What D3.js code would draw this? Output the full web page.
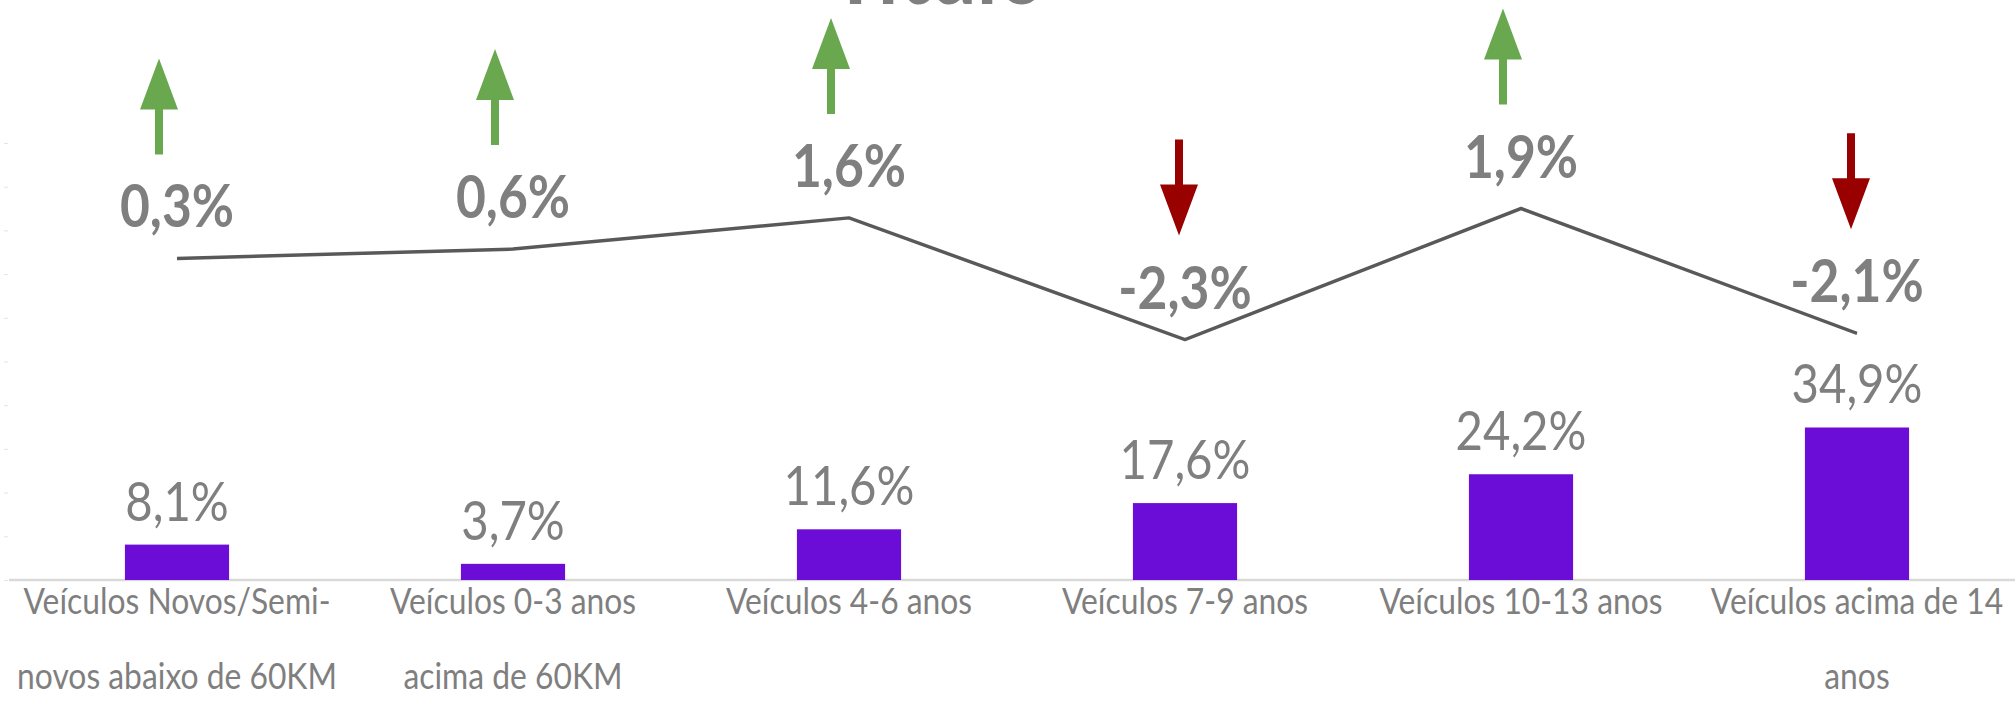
<!DOCTYPE html>
<html lang="pt">
<head>
  <meta charset="UTF-8">
  <title>Frota por idade</title>
  <script src="https://d3js.org/d3.v7.min.js"></script>
  <style>
    body { margin: 0; background: #fff; }
    text { font-family: Lato, "Open Sans", sans-serif; fill: #7f7f7f; }
  </style>
</head>
<body>

<div id="grafico"></div>

<script>
  // Dados
  const categorias = [
    "Veículos Novos/Semi-\nnovos abaixo de 60KM",
    "Veículos 0-3 anos\nacima de 60KM",
    "Veículos 4-6 anos",
    "Veículos 7-9 anos",
    "Veículos 10-13 anos",
    "Veículos acima de 14\nanos"
  ];
  const participacao = [8.1, 3.7, 11.6, 17.6, 24.2, 34.9];
  const variacao = [0.3, 0.6, 1.6, -2.3, 1.9, -2.1];
  const ticksEixo = [0, 10, 20, 30, 40, 50, 60, 70, 80, 90, 100];
  const titulo = "Título";

  // Configuração
  const width = 2015;
  const height = 703;
  const sx = 0.86; // o gráfico original está comprimido na horizontal

  const fmt = d3.formatLocale({ decimal: ",", thousands: ".", grouping: [3], currency: ["R$", ""], minus: "-" }).format(".1f");

  const svg = d3.select("#grafico")
    .append("svg")
    .attr("width", width)
    .attr("height", height);

  svg.append("rect").attr("width", width).attr("height", height).attr("fill", "#fff");

  const g = svg.append("g").attr("transform", `scale(${sx},1)`);

  // Escalas
  const x = d3.scaleBand()
    .domain(categorias)
    .range([9 / sx, 2025 / sx])
    .paddingInner(0.69)
    .paddingOuter(0.345);

  const y = d3.scaleLinear().domain([0, 100]).range([580, 143]);
  const y2 = d3.scaleLinear().domain([-3, 3]).range([361.4, 174.2]);

  const cx = c => x(c) + x.bandwidth() / 2;

  // Título (cortado no topo)
  g.append("text")
    .attr("x", 938 / sx)
    .attr("y", 4)
    .attr("text-anchor", "middle")
    .attr("font-size", 97)
    .attr("font-weight", "bold")
    .text(titulo);

  // Eixo esquerdo (só as marcas, bem claras)
  const eixo = g.append("g")
    .attr("transform", `translate(${8 / sx},0)`)
    .call(d3.axisLeft(y).tickValues(ticksEixo).tickSize(4 / sx).tickFormat(""));
  eixo.select(".domain").remove();
  eixo.selectAll(".tick line").attr("stroke", "#e2e2e2");

  // Linha de base
  g.append("line")
    .attr("x1", 9 / sx)
    .attr("x2", width / sx)
    .attr("y1", y(0))
    .attr("y2", y(0))
    .attr("stroke", "#d9d9d9")
    .attr("stroke-width", 2.5);

  // Barras
  g.selectAll("rect.barra")
    .data(categorias)
    .enter()
    .append("rect")
    .attr("class", "barra")
    .attr("x", c => x(c))
    .attr("y", (c, i) => y(participacao[i]))
    .attr("width", x.bandwidth())
    .attr("height", (c, i) => y(0) - y(participacao[i]))
    .attr("fill", "#6b0dd6");

  // Rótulos das barras
  g.selectAll("text.rotuloBarra")
    .data(categorias)
    .enter()
    .append("text")
    .attr("class", "rotuloBarra")
    .attr("x", cx)
    .attr("y", (c, i) => y(participacao[i]) - 24)
    .attr("text-anchor", "middle")
    .attr("font-size", 55)
    .text((c, i) => fmt(participacao[i]) + "%");

  // Rótulos das categorias
  const cat = g.selectAll("text.categoria")
    .data(categorias)
    .enter()
    .append("text")
    .attr("class", "categoria")
    .attr("text-anchor", "middle")
    .attr("font-size", 37);
  cat.each(function (c) {
    d3.select(this).selectAll("tspan")
      .data(c.split("\n"))
      .enter()
      .append("tspan")
      .attr("x", cx(c))
      .attr("y", (d, j) => 614 + j * 75)
      .text(d => d);
  });

  // Linha da variação
  const pontos = categorias.map((c, i) => ({ c: c, v: variacao[i] }));
  g.append("path")
    .datum(pontos)
    .attr("fill", "none")
    .attr("stroke", "#595959")
    .attr("stroke-width", 3.5)
    .attr("stroke-linejoin", "round")
    .attr("d", d3.line().x(d => cx(d.c)).y(d => y2(d.v)));

  // Rótulos da linha
  g.selectAll("text.rotuloLinha")
    .data(pontos)
    .enter()
    .append("text")
    .attr("class", "rotuloLinha")
    .attr("x", d => cx(d.c))
    .attr("y", d => y2(d.v) - 31)
    .attr("text-anchor", "middle")
    .attr("font-size", 60)
    .attr("font-weight", "bold")
    .text(d => fmt(d.v) + "%");

  // Setas
  const seta = d => {
    const sobe = d.v >= 0;
    const ax = cx(d.c) - (sobe ? 18 : 6) / sx;
    const hw = 19 / sx, sw = 4 / sx;
    const ref = y2(d.v) - 104;
    let pts;
    if (sobe) {
      const t = ref - 96, hb = t + 51;
      pts = [[ax, t], [ax + hw, hb], [ax + sw, hb], [ax + sw, ref], [ax - sw, ref], [ax - sw, hb], [ax - hw, hb]];
    } else {
      const top = ref - 96, hb = ref - 51;
      pts = [[ax, ref], [ax + hw, hb], [ax + sw, hb], [ax + sw, top], [ax - sw, top], [ax - sw, hb], [ax - hw, hb]];
    }
    return "M" + pts.map(p => p.join(",")).join("L") + "Z";
  };

  g.selectAll("path.seta")
    .data(pontos)
    .enter()
    .append("path")
    .attr("class", "seta")
    .attr("d", seta)
    .attr("fill", d => d.v >= 0 ? "#6aa84f" : "#990000");
</script>

</body>
</html>
